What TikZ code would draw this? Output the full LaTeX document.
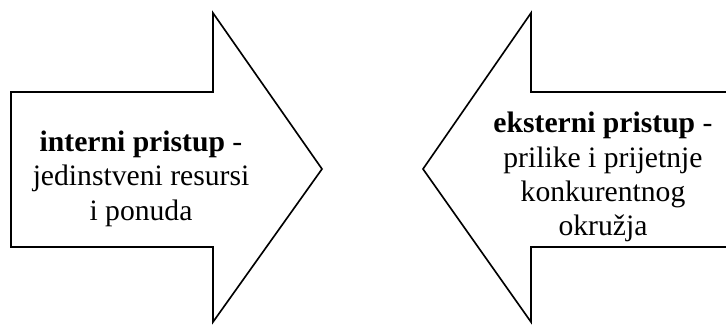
\documentclass[tikz,border=0pt]{standalone}
\usepackage{fontspec}
\setmainfont{Liberation Serif}
\usepackage{tikz}

\begin{document}
\begin{tikzpicture}[
  blockarrow/.style={draw=black, line width=1.4pt, line join=miter, fill=white},
  lbl/.style={align=center, inner sep=0pt, font=\fontsize{25.3}{29.3}\selectfont}
]
\useasboundingbox (0,0) rectangle (21.78,9.72);
\clip (0,0) rectangle (21.78,9.72);

% Left arrow points right, right arrow points left (its tail runs off the page).
\draw[blockarrow] (0.33,6.96) -- (6.39,6.96) -- (6.39,9.33) -- (9.66,4.65)
  -- (6.39,0.06) -- (6.39,2.31) -- (0.33,2.31) -- cycle;
\draw[blockarrow] (12.69,4.65) -- (15.93,9.33) -- (15.93,6.96) -- (22.2,6.96)
  -- (22.2,2.31) -- (15.93,2.31) -- (15.93,0.06) -- cycle;

\node[lbl] (internal) at (4.23,4.36) {\textbf{interni pristup} -\\jedinstveni resursi\\i ponuda};
\node[lbl] (external) at (18.09,4.40) {\textbf{eksterni pristup} -\\prilike i prijetnje\\konkurentnog\\okružja};
\end{tikzpicture}
\end{document}
